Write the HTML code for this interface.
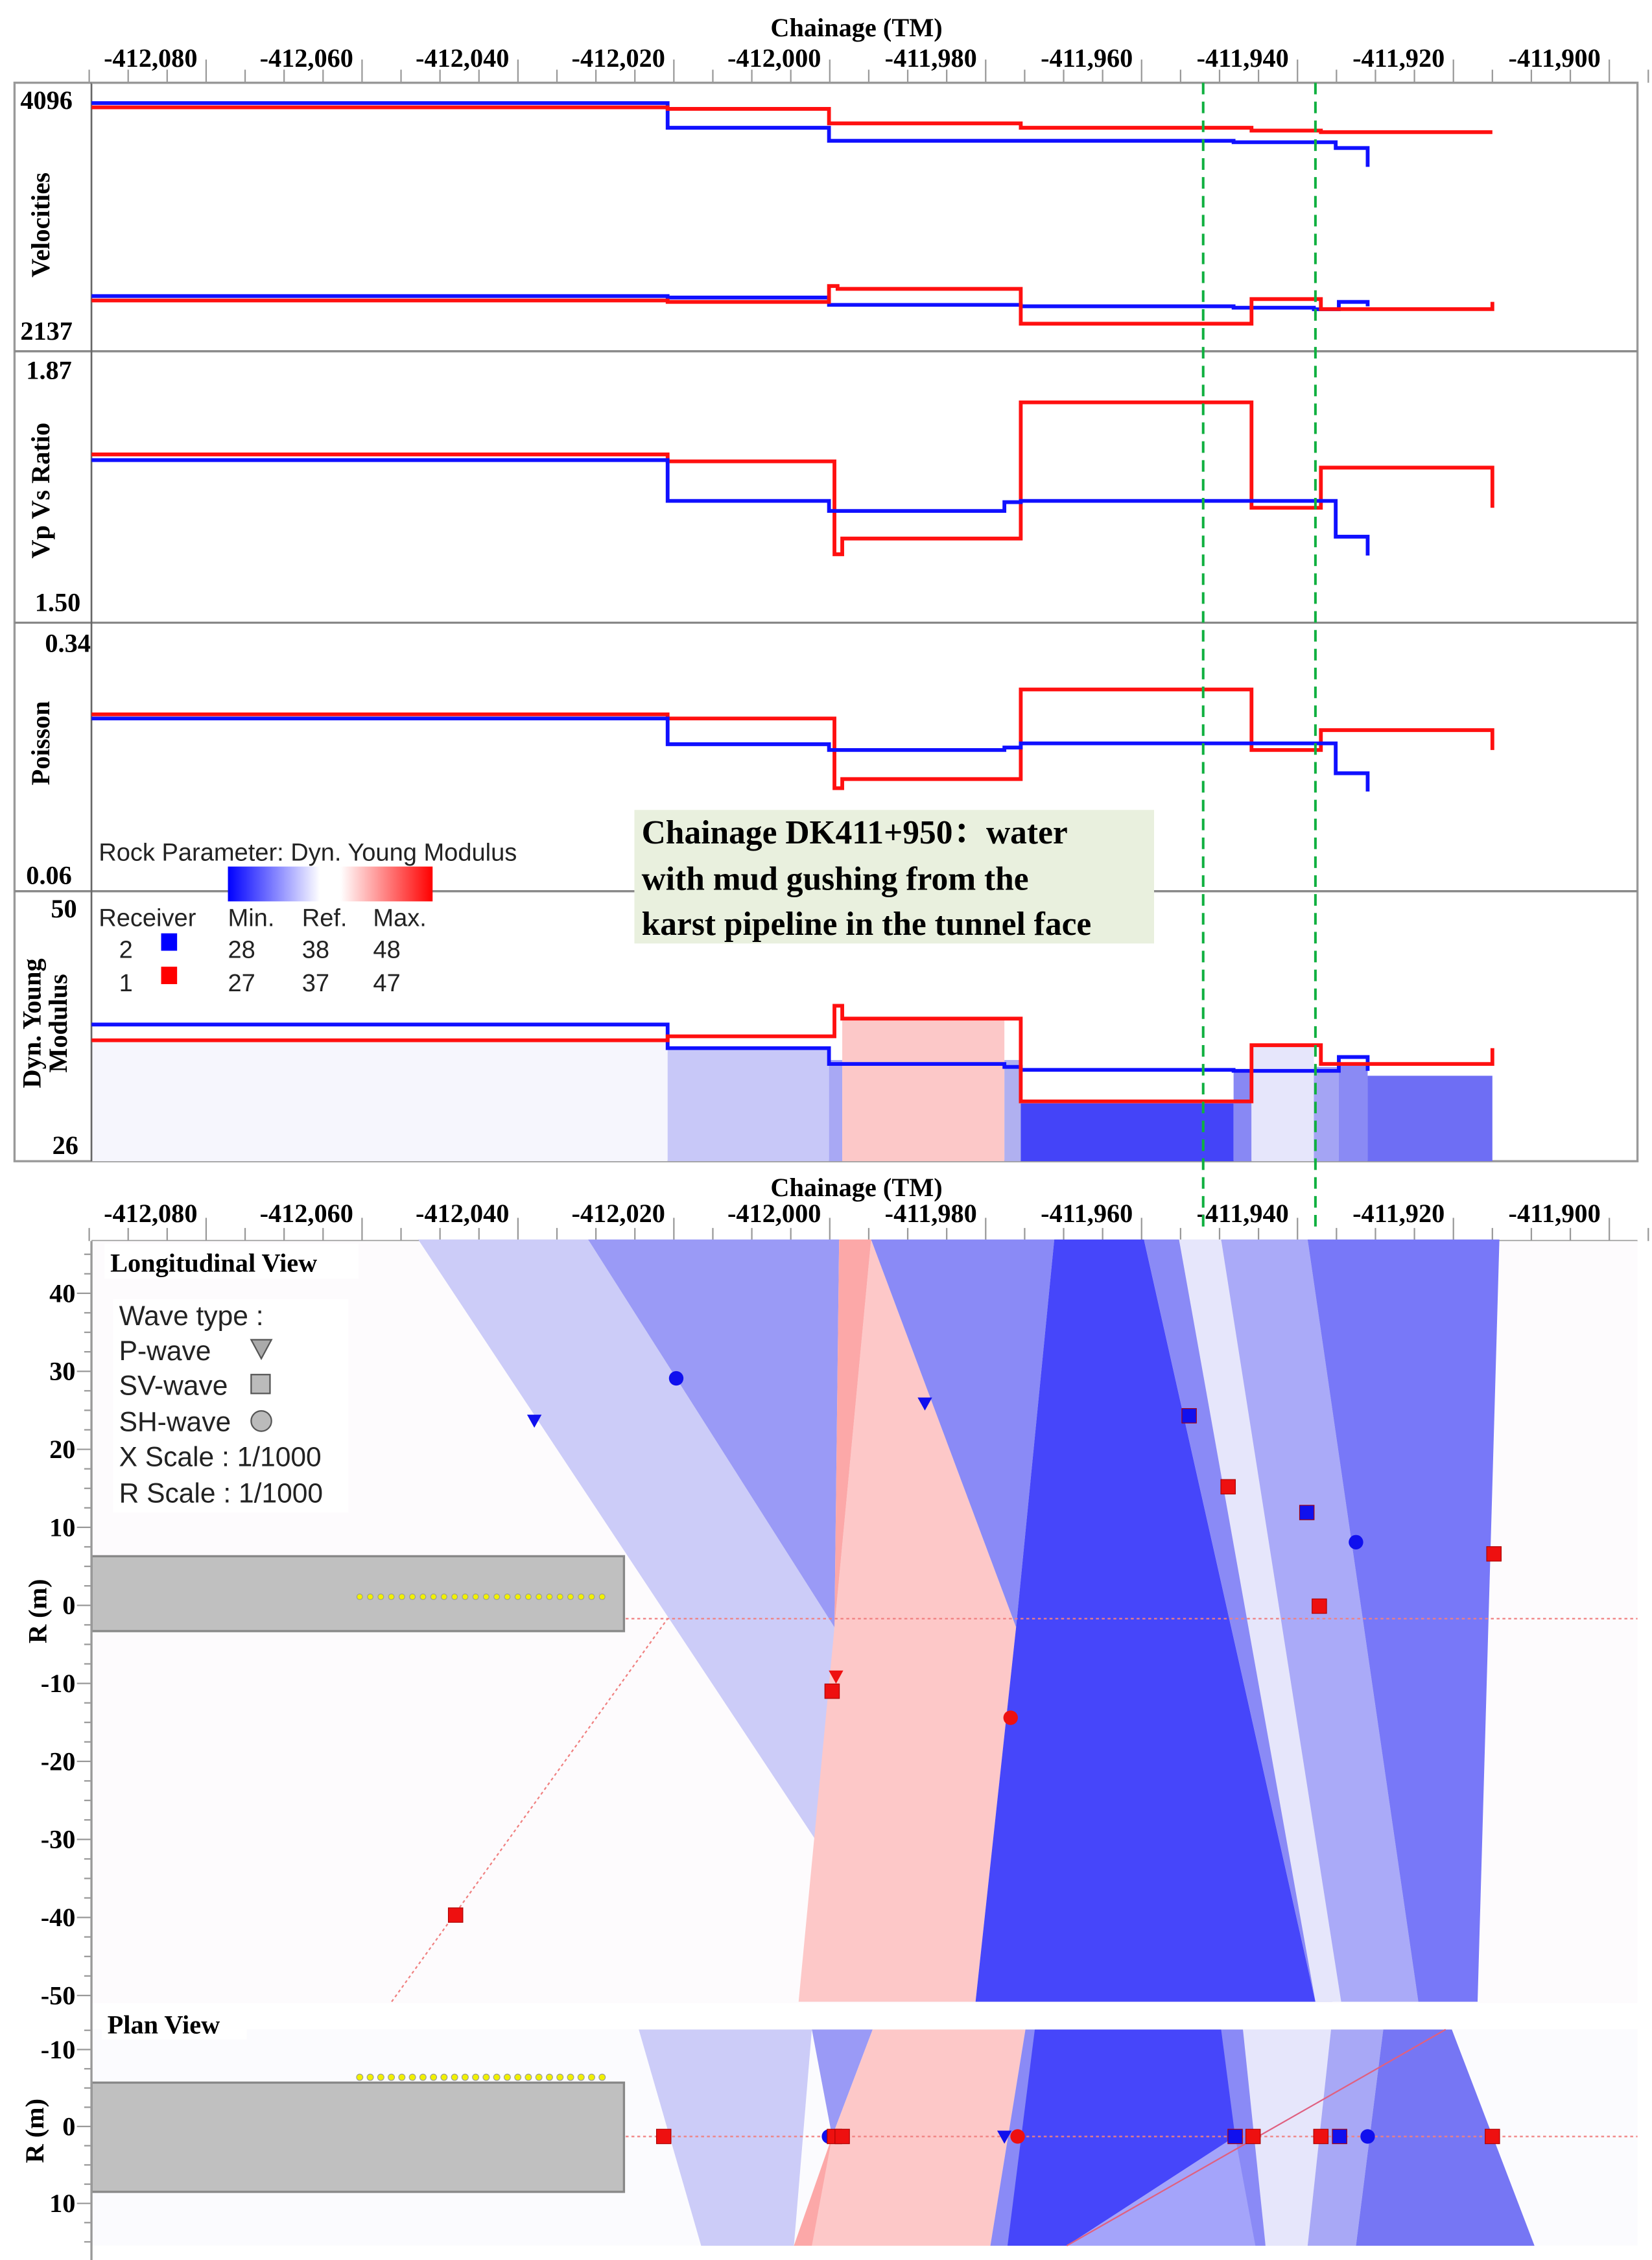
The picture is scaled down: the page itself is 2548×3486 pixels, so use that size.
<!DOCTYPE html>
<html><head><meta charset="utf-8"><style>
html,body{margin:0;padding:0;background:#fff}
svg{display:block}
.tk{font-family:"Liberation Serif",serif;font-weight:bold;font-size:18px;fill:#000}
.ss{font-family:"Liberation Sans",sans-serif;font-size:17px;fill:#222}
.an{font-family:"Liberation Serif","Noto Serif CJK SC",serif;font-weight:bold;font-size:23px;fill:#000}
</style></head><body>
<svg id="chart" xmlns="http://www.w3.org/2000/svg" width="2548" height="3486" viewBox="0 0 1138 1557" preserveAspectRatio="none">
<rect width="1138" height="1557" fill="#fff"/>
<g id="g"></g>
</svg>
<script>
// ---------- data ----------
const xTicks = [-412080,-412060,-412040,-412020,-412000,-411980,-411960,-411940,-411920,-411900];
const xTickLabels = ["-412,080","-412,060","-412,040","-412,020","-412,000","-411,980","-411,960","-411,940","-411,920","-411,900"];
const markerLines = [-411952.1,-411937.7];

const velBlueTopX = [-412094.7,-412020.8,-412000.1,-411948.2,-411935.1,-411931.0];
const velBlueTopV = [4059,3851,3741,3729,3680,3521];
const velRedTopX  = [-412094.7,-412020.8,-412000.1,-411975.5,-411945.9,-411937.0,-411915.0];
const velRedTopV  = [4023,4010,3888,3851,3827,3814,3814];
const velBlueLowX = [-412094.7,-412020.8,-412000.1,-411975.5,-411948.2,-411937.9,-411934.7,-411931.0];
const velBlueLowV = [2431,2419,2357,2345,2333,2320,2382,2345];
const velRedLowX  = [-412094.7,-412020.8,-412000.1,-411999.0,-411975.5,-411945.9,-411937.0,-411915.0];
const velRedLowV  = [2394,2382,2516,2492,2198,2406,2321,2382];

const ratioRedX  = [-412094.7,-412020.8,-411999.4,-411998.4,-411975.5,-411945.9,-411937.0,-411915.0];
const ratioRedV  = [1.738,1.727,1.579,1.604,1.821,1.653,1.717,1.653];
const ratioBlueX = [-412094.7,-412020.8,-412000.1,-411977.6,-411975.5,-411935.1,-411931.0];
const ratioBlueV = [1.729,1.664,1.648,1.662,1.664,1.607,1.577];

const poisRedX  = [-412094.7,-412020.8,-411999.4,-411998.4,-411975.5,-411945.9,-411937.0,-411915.0];
const poisRedV  = [0.254,0.249,0.165,0.176,0.284,0.211,0.235,0.211];
const poisBlueX = [-412094.7,-412020.8,-412000.1,-411977.6,-411975.5,-411935.1,-411931.0];
const poisBlueV = [0.249,0.218,0.211,0.214,0.219,0.183,0.161];

const youngRedX  = [-412094.7,-412020.8,-411999.4,-411998.4,-411975.5,-411945.9,-411937.0,-411915.0];
const youngRedV  = [36.5,36.9,40.0,38.7,30.3,36.0,34.1,35.7];
const youngBlueX = [-412094.7,-412020.8,-412000.1,-411977.6,-411975.5,-411948.2,-411934.7,-411931.0];
const youngBlueV = [38.1,35.7,34.1,33.8,33.5,33.4,34.8,33.4];
const barX = [-412094.7,-412020.8,-412000.1,-411998.4,-411977.6,-411975.5,-411948.2,-411945.9,-411937.9,-411934.7,-411931.0,-411915.0];
const barV = [36.3,35.7,34.5,38.5,34.5,30.1,33.4,36.0,33.8,34.1,32.9];
const barColors = ["#f6f6fd","#c8c8f8","#a8a8f4","#fcc8c8","#b0b0f0","#4444f8","#8888f4","#e6e6fb","#a4a4f4","#8a8af4","#6e6ef4"];

// longitudinal regions [chainage, R]
const longRegions = [
 {c:"#ccccf8", p:[[-412052.8,46.9],[-412031.0,46.9],[-411999.4,-2.8],[-412001.2,-31]]},
 {c:"#9a9af6", p:[[-412031.0,46.9],[-411998.8,46.9],[-411999.4,-2.8]]},
 {c:"#fdc8c8", p:[[-411999.4,-2.8],[-411994.7,46.9],[-411976.1,-2.8],[-411981.3,-50.8],[-412004.0,-50.8]]},
 {c:"#fca8a8", p:[[-411998.8,46.9],[-411994.7,46.9],[-411999.4,-2.8]]},
 {c:"#8a8af6", p:[[-411994.7,46.9],[-411971.2,46.9],[-411976.1,-2.8]]},
 {c:"#4646fa", p:[[-411971.2,46.9],[-411959.7,46.9],[-411937.7,-50.8],[-411981.3,-50.8],[-411976.1,-2.8]]},
 {c:"#8a8af6", p:[[-411959.7,46.9],[-411955.2,46.9],[-411935.5,-50.8],[-411937.7,-50.8]]},
 {c:"#e6e6fb", p:[[-411955.2,46.9],[-411949.8,46.9],[-411934.4,-50.8],[-411937.7,-50.8]]},
 {c:"#aaaaf8", p:[[-411949.8,46.9],[-411938.7,46.9],[-411924.5,-50.8],[-411934.4,-50.8]]},
 {c:"#7878f8", p:[[-411938.7,46.9],[-411914.1,46.9],[-411916.9,-50.8],[-411924.5,-50.8]]}
];
const planRegions = [
 {c:"#ccccf8", p:[[-412024.5,-12.6],[-412002.3,-12.6],[-412004.6,15.5],[-412016.5,15.5]]},
 {c:"#9a9af6", p:[[-412002.3,-12.6],[-411994.5,-12.6],[-411999.7,1.3]]},
 {c:"#fdc8c8", p:[[-411994.5,-12.6],[-411974.9,-12.6],[-411979.4,15.5],[-412003.3,15.5],[-411999.7,1.3]]},
 {c:"#fca8a8", p:[[-411999.7,1.3],[-412002.3,15.5],[-412004.6,15.5]]},
 {c:"#8a8af6", p:[[-411974.9,-12.6],[-411945.4,-12.6],[-411944.1,15.5],[-411979.4,15.5]]},
 {c:"#4646fa", p:[[-411973.7,-12.6],[-411949.8,-12.6],[-411948.0,1.3],[-411969.6,15.5],[-411977.2,15.5]]},
 {c:"#a4a4fa", p:[[-411948.0,1.3],[-411969.6,15.5],[-411945.4,15.5]]},
 {c:"#e6e6fb", p:[[-411947.0,-12.6],[-411935.7,-12.6],[-411938.7,15.5],[-411944.1,15.5]]},
 {c:"#a8a8f6", p:[[-411935.7,-12.6],[-411929.0,-12.6],[-411932.5,15.5],[-411938.7,15.5]]},
 {c:"#7676f4", p:[[-411929.0,-12.6],[-411920.2,-12.6],[-411909.6,15.5],[-411932.5,15.5]]}
];
// markers: [chainage, R, shape, color]
const longMarkers = [
 [-412037.9,23.7,"tri","b"],[-412019.7,29.1,"circ","b"],[-411987.8,25.9,"tri","b"],[-411953.9,24.3,"sq","b"],
 [-411948.9,15.2,"sq","r"],[-411938.8,11.9,"sq","b"],[-411932.5,8.1,"circ","b"],[-411914.8,6.6,"sq","r"],
 [-411937.2,-0.1,"sq","r"],[-411999.2,-9.1,"tri","r"],[-411999.7,-11.0,"sq","r"],[-411976.8,-14.4,"circ","r"],[-412048.0,-39.7,"sq","r"]
];
const planMarkers = [
 [-412021.3,1.3,"sq","r"],[-412000.1,1.3,"circ","b"],[-411999.4,1.3,"sq","r"],[-411998.4,1.3,"sq","r"],
 [-411977.6,1.3,"tri","b"],[-411975.9,1.3,"circ","r"],[-411948.0,1.3,"sq","b"],[-411945.7,1.3,"sq","r"],
 [-411937.0,1.3,"sq","r"],[-411934.6,1.3,"sq","b"],[-411931.0,1.3,"circ","b"],[-411915.0,1.3,"sq","r"]
];
const longRTicks = [40,30,20,10,0,-10,-20,-30,-40,-50];
const planRTicks = [-10,0,10];

// ---------- scales ----------
const NS="http://www.w3.org/2000/svg";
const G=document.getElementById('g');
function X(c){return 142+(c+412080)*5.37;}
function lin(d0,d1,r0,r1){return v=>r0+(v-d0)/(d1-d0)*(r1-r0);}
const yVel=lin(4096,2137,68,228), yRat=lin(1.87,1.50,256,416), yPoi=lin(0.34,0.06,443,603), yYou=lin(50,26,625,788);
const yLong=lin(0,40,1106,891), yPlan=lin(0,10,1465,1518);
function el(t,a,txt){const e=document.createElementNS(NS,t);for(const k in a)e.setAttribute(k,a[k]);if(txt!==undefined)e.textContent=txt;G.appendChild(e);return e;}

// ---------- top panels ----------
el('rect',{x:10,y:57,width:1118,height:743,fill:'#fff',stroke:'#999','stroke-width':1.5});
for(let i=0;i<barV.length;i++){
 const e=el('rect',{x:X(barX[i]),y:yYou(barV[i]),width:X(barX[i+1])-X(barX[i]),height:800-yYou(barV[i]),fill:barColors[i]});
 
 
}
[242,429,614].forEach(y=>el('line',{x1:10,x2:1128,y1:y,y2:y,stroke:'#888','stroke-width':1.5}));
el('line',{x1:63,x2:63,y1:57,y2:800,stroke:'#666','stroke-width':1.2});
function step(xs,vs,ys,col,name){
 let d='M'+X(xs[0])+','+ys(vs[0]);
 for(let i=1;i<xs.length;i++){d+=' H'+X(xs[i])+' V'+ys(vs[i]);}
 const e=el('path',{d:d,fill:'none',stroke:col,'stroke-width':2.6});
 
 
}
const B='#1010ff',R='#ff1010';
step(velBlueTopX,velBlueTopV,yVel,B,'vp-line-receiver-2');
step(velRedTopX,velRedTopV,yVel,R,'vp-line-receiver-1');
step(velBlueLowX,velBlueLowV,yVel,B,'vs-line-receiver-2');
step(velRedLowX,velRedLowV,yVel,R,'vs-line-receiver-1');
step(ratioRedX,ratioRedV,yRat,R,'ratio-line-receiver-1');
step(ratioBlueX,ratioBlueV,yRat,B,'ratio-line-receiver-2');
step(poisRedX,poisRedV,yPoi,R,'poisson-line-receiver-1');
step(poisBlueX,poisBlueV,yPoi,B,'poisson-line-receiver-2');
step(youngBlueX,youngBlueV,yYou,B,'young-line-receiver-2');
step(youngRedX,youngRedV,yYou,R,'young-line-receiver-1');

function xAxis(yTitle,yLab,yAxis,name){
 const t=el('text',{x:590,y:yTitle,'text-anchor':'middle',class:'tk'},'Chainage (TM)');
 
 
 el('line',{x1:63,x2:1128,y1:yAxis,y2:yAxis,stroke:'#999','stroke-width':1.5});
 for(let c=-412095;c<=-411890;c+=5){
  const maj=(c%20===0);
  el('line',{x1:X(c),x2:X(c),y1:yAxis-(maj?16:9),y2:yAxis,stroke:'#999','stroke-width':1});
 }
 for(let i=0;i<xTicks.length;i++){
  const e=el('text',{x:X(xTicks[i])-6,y:yLab,'text-anchor':'end',class:'tk'},xTickLabels[i]);
  
  
 }
}
xAxis(25,46,57,'x-axis-top');
xAxis(824,842,855,'x-axis-bottom');

const yl=[['4096',14,75],['2137',14,234],['1.87',18,261],['1.50',24,421],['0.34',31,449],['0.06',18,609],['50',35,632],['26',36,795]];
yl.forEach(a=>el('text',{x:a[1],y:a[2],class:'tk'},a[0]));
function vlabel(txt,x,y,nm){const e=el('text',{x:x,y:y,'text-anchor':'middle',class:'tk',transform:'rotate(-90 '+x+' '+y+')'},txt);}
vlabel('Velocities',34,155,'velocities-axis-title');
vlabel('Vp Vs Ratio',34,338,'ratio-axis-title');
vlabel('Poisson',34,512,'poisson-axis-title');
vlabel('Dyn. Young',28,705,'young-axis-title');
vlabel('Modulus',46,705,'young-axis-title-2');

// legend
el('rect',{x:65,y:572,width:335,height:40,fill:'#fff'});
el('text',{x:68,y:593,class:'ss'},'Rock Parameter: Dyn. Young Modulus');
const defs=document.createElementNS(NS,'defs');defs.innerHTML='<linearGradient id="gr" x1="0" x2="1"><stop offset="0" stop-color="#0000ff"/><stop offset="0.45" stop-color="#ffffff"/><stop offset="0.55" stop-color="#ffffff"/><stop offset="1" stop-color="#ff0000"/></linearGradient>';G.appendChild(defs);
el('rect',{x:157,y:597,width:141,height:24,fill:'url(#gr)'});
[['Receiver',68,638],['Min.',157,638],['Ref.',208,638],['Max.',257,638],['2',82,660],['28',157,660],['38',208,660],['48',257,660],['1',82,683],['27',157,683],['37',208,683],['47',257,683]].forEach(a=>el('text',{x:a[1],y:a[2],class:'ss'},a[0]));
el('rect',{x:111,y:643,width:11,height:12,fill:'#0000ff'});
el('rect',{x:111,y:666,width:11,height:12,fill:'#ff0000'});

// annotation
el('rect',{x:437,y:558,width:358,height:92,fill:'#e9f0de'});
el('text',{x:442,y:581,class:'an'},'Chainage DK411+950：water');
el('text',{x:442,y:613,class:'an'},'with mud gushing from the');
el('text',{x:442,y:644,class:'an'},'karst pipeline in the tunnel face');

// ---------- bottom views ----------
el('rect',{x:63,y:855,width:1065,height:525,fill:'#fdfbfd'});
el('rect',{x:63,y:1398,width:1065,height:149,fill:'#fbfbfe'});
function poly(reg,ys,nm){reg.forEach(r=>{const e=el('polygon',{points:r.p.map(q=>X(q[0])+','+ys(q[1])).join(' '),fill:r.c});});}
poly(longRegions,yLong,'longitudinal-region');
poly(planRegions,yPlan,'plan-region');
el('line',{x1:63,x2:1128,y1:yLong(-1.7),y2:yLong(-1.7),stroke:'#f08080','stroke-width':1,'stroke-dasharray':'2,2'});
el('line',{x1:63,x2:1128,y1:yPlan(1.3),y2:yPlan(1.3),stroke:'#f08080','stroke-width':1,'stroke-dasharray':'2,2'});
el('line',{x1:X(-412056.2),y1:yLong(-50.8),x2:X(-412020.8),y2:yLong(-1.7),stroke:'#f08080','stroke-width':1,'stroke-dasharray':'2,2'});
el('line',{x1:X(-411969.6),y1:yPlan(15.5),x2:X(-411921.0),y2:yPlan(-12.6),stroke:'#e06080','stroke-width':1});
// tunnel
el('rect',{x:X(-412094.7),y:yLong(6.3),width:X(-412026.4)-X(-412094.7),height:yLong(-3.3)-yLong(6.3),fill:'#c0c0c0',stroke:'#888','stroke-width':1.5});
el('rect',{x:X(-412094.7),y:yPlan(-5.7),width:X(-412026.4)-X(-412094.7),height:yPlan(8.5)-yPlan(-5.7),fill:'#c0c0c0',stroke:'#888','stroke-width':1.5});
for(let i=0;i<24;i++){const c=-412060.3+i*(31.1/23);
 el('circle',{cx:X(c),cy:yLong(1.1),r:2,fill:'#f0f000',stroke:'#999','stroke-width':0.5});
 el('circle',{cx:X(c),cy:yPlan(-6.4),r:2.2,fill:'#f0f000',stroke:'#999','stroke-width':0.5});}
function marks(arr,ys){arr.forEach(m=>{const x=X(m[0]),y=ys(m[1]),col=m[3]==='b'?'#1010ee':'#ee1010';let e;
 if(m[2]==='sq')e=el('rect',{x:x-5,y:y-5,width:10,height:10,fill:col,stroke:'#a00','stroke-width':0.5});
 else if(m[2]==='circ')e=el('circle',{cx:x,cy:y,r:5,fill:col});
 else e=el('polygon',{points:(x-5)+','+(y-4)+' '+(x+5)+','+(y-4)+' '+x+','+(y+5),fill:col});
 
 });}
marks(longMarkers,yLong);marks(planMarkers,yPlan);
// left axes
el('line',{x1:63,x2:63,y1:855,y2:1557,stroke:'#999','stroke-width':1.5});
for(let r=45;r>=-50;r-=2.5)el('line',{x1:r%10===0?53:58,x2:63,y1:yLong(r),y2:yLong(r),stroke:'#999','stroke-width':1});
for(let r=-12.5;r<=15;r+=2.5)el('line',{x1:r%10===0?53:58,x2:63,y1:yPlan(r),y2:yPlan(r),stroke:'#999','stroke-width':1});
longRTicks.forEach(r=>el('text',{x:52,y:yLong(r)+6,'text-anchor':'end',class:'tk'},String(r)));
planRTicks.forEach(r=>el('text',{x:52,y:yPlan(r)+6,'text-anchor':'end',class:'tk'},String(r)));
vlabel('R (m)',32,1110,'long-r-axis-title');
vlabel('R (m)',30,1468,'plan-r-axis-title');
el('rect',{x:72,y:857,width:175,height:24,fill:'#fff'});
el('text',{x:76,y:876,class:'tk'},'Longitudinal View');
el('rect',{x:70,y:1383,width:100,height:22,fill:'#fff'});
el('text',{x:74,y:1401,class:'tk'},'Plan View');
// wave legend
el('rect',{x:78,y:895,width:162,height:147,fill:'#fff'});
[['Wave type :',913],['P-wave',937],['SV-wave',961],['SH-wave',986],['X Scale : 1/1000',1010],['R Scale : 1/1000',1035]].forEach(a=>el('text',{x:82,y:a[1],class:'ss',style:'font-size:19px'},a[0]));
el('polygon',{points:'173,923 187,923 180,936',fill:'#aaa',stroke:'#555'});
el('rect',{x:173,y:947,width:13,height:13,fill:'#bbb',stroke:'#555'});
el('circle',{cx:180,cy:979,r:7,fill:'#bbb',stroke:'#555'});
// green dashed lines
markerLines.forEach(c=>{const e=el('line',{x1:X(c),x2:X(c),y1:57,y2:848,stroke:'#10b040','stroke-width':1.8,'stroke-dasharray':'8,5'});});
</script>
</body></html>
